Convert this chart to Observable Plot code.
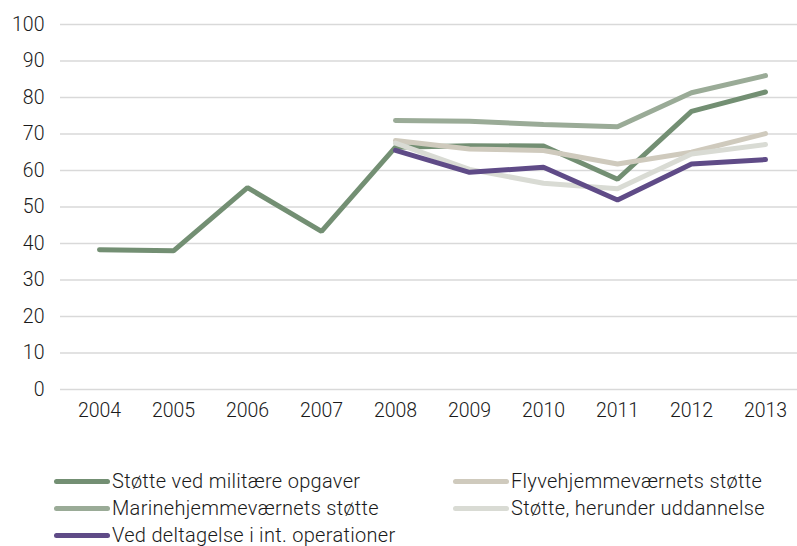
<!DOCTYPE html>
<html><head><meta charset="utf-8">
<script src="https://cdn.jsdelivr.net/npm/d3@7"></script>
<script src="https://cdn.jsdelivr.net/npm/@observablehq/plot@0.6"></script>
<style>
body{margin:0;background:#fff;font-family:Roboto, sans-serif;font-weight:300}
#wrap{position:relative;width:797px;height:546px;overflow:hidden}
.leg{position:absolute;display:flex;align-items:center;font-size:20px;letter-spacing:0.3px;color:#1a1a1a;white-space:nowrap;line-height:1;font-weight:300}
.sw{width:56px;height:5px;border-radius:3px;margin-right:2px}
svg text{font-weight:300}
</style></head><body><div id="wrap"></div>
<script>
const years = ["2004","2005","2006","2007","2008","2009","2010","2011","2012","2013"];
const yTicks = [0,10,20,30,40,50,60,70,80,90,100];
const seriesNames = ["Støtte ved militære opgaver","Flyvehjemmeværnets støtte","Marinehjemmeværnets støtte","Støtte, herunder uddannelse","Ved deltagelse i int. operationer"];
const seriesColors = ["#738f73","#cfcabd","#9aab97","#d9dbd4","#5f4b87"];
const militaere   = [38.3, 38.0, 55.3, 43.3, 66.4, 66.8, 66.7, 57.6, 76.2, 81.5];
const flyve       = [null, null, null, null, 68.2, 65.9, 65.5, 61.8, 65.0, 70.1];
const marine      = [null, null, null, null, 73.7, 73.5, 72.6, 72.0, 81.3, 86.0];
const stoette     = [null, null, null, null, 67.5, 60.3, 56.5, 55.0, 64.5, 67.1];
const operationer = [null, null, null, null, 65.5, 59.5, 60.9, 51.9, 61.8, 63.0];

const allSeries = [militaere, flyve, marine, stoette, operationer];
const data = [];
allSeries.forEach((vals, i) => {
  vals.forEach((v, j) => { if (v != null) data.push({series: seriesNames[i], year: years[j], value: v}); });
});

const chart = Plot.plot({
  width: 797,
  height: 446,
  marginLeft: 60,
  marginRight: 0,
  marginTop: 24,
  marginBottom: 57,
  style: {fontFamily: "Roboto, sans-serif", fontSize: "19.5px", color: "#1a1a1a", background: "#fff"},
  x: {type: "point", domain: years, range: [97, 767], padding: 0, label: null},
  y: {domain: [0, 100], ticks: yTicks, label: null},
  color: {domain: seriesNames, range: seriesColors},
  marks: [
    Plot.ruleY(yTicks, {stroke: "#d9d9d9", strokeWidth: 1.5}),
    Plot.axisY({ticks: yTicks, tickSize: 0, tickPadding: 16, label: null, fontSize: 19.5}),
    Plot.axisX({tickSize: 0, tickPadding: 14, label: null, fontSize: 19.5}),
    Plot.line(data, {x: "year", y: "value", z: "series", stroke: "series", strokeWidth: 5, strokeLinecap: "round", strokeLinejoin: "miter"})
  ]
});
const wrap = document.getElementById("wrap");
wrap.appendChild(chart);

const legPos = [[54, 481], [453, 481], [54, 508], [453, 508], [54, 535]];
seriesNames.forEach((name, i) => {
  const d = document.createElement("div");
  d.className = "leg";
  d.style.left = legPos[i][0] + "px";
  d.style.top = (legPos[i][1] - 10) + "px";
  d.style.height = "20px";
  const sw = document.createElement("div");
  sw.className = "sw";
  sw.style.background = seriesColors[i];
  const t = document.createElement("span");
  t.textContent = name;
  d.appendChild(sw); d.appendChild(t);
  wrap.appendChild(d);
});
</script></body></html>
